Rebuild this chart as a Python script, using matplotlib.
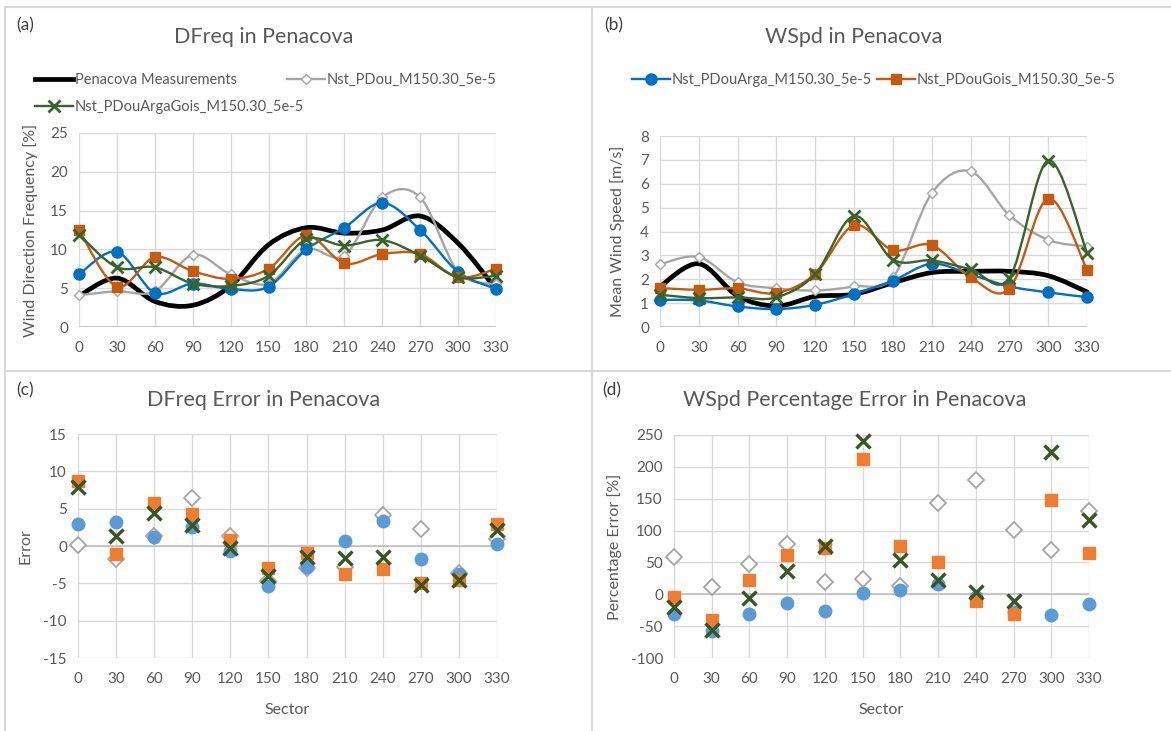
import matplotlib
matplotlib.use("Agg")
import matplotlib.pyplot as plt
from matplotlib.path import Path
from matplotlib.patches import PathPatch
from matplotlib.lines import Line2D

plt.rcParams["font.family"] = ["Lato", "DejaVu Sans"]
plt.rcParams["axes.unicode_minus"] = False

W, H = 1171, 731
TEXT = "#595959"
GRID = "#D9D9D9"

SECTORS = [0, 30, 60, 90, 120, 150, 180, 210, 240, 270, 300, 330]

# (a) direction frequency [%]
DFREQ_MEAS = [4.0, 6.3, 3.3, 2.8, 5.3, 10.6, 12.8, 12.1, 12.5, 14.3, 10.8, 4.9]
DFREQ_PDOU = [4.1, 4.6, 4.6, 9.3, 6.8, 5.6, 10.0, 9.2, 16.7, 16.7, 7.1, 5.5]
DFREQ_ARGA = [6.8, 9.7, 4.4, 5.6, 4.9, 5.2, 10.0, 12.8, 16.0, 12.5, 7.1, 4.9]
DFREQ_GOIS = [12.5, 5.2, 9.0, 7.2, 6.2, 7.5, 11.8, 8.2, 9.4, 9.4, 6.4, 7.5]
DFREQ_ARGAGOIS = [11.9, 7.7, 7.7, 5.6, 5.3, 6.6, 11.3, 10.5, 11.2, 9.2, 6.4, 6.6]

# (b) mean wind speed [m/s]
WSPD_MEAS = [1.7, 2.65, 1.3, 0.88, 1.28, 1.37, 1.85, 2.28, 2.33, 2.33, 2.15, 1.47]
WSPD_PDOU = [2.63, 2.93, 1.87, 1.62, 1.53, 1.70, 2.08, 5.6, 6.52, 4.68, 3.65, 3.37]
WSPD_ARGA = [1.14, 1.11, 0.86, 0.75, 0.93, 1.38, 1.94, 2.65, 2.2, 1.7, 1.45, 1.25]
WSPD_GOIS = [1.63, 1.56, 1.62, 1.42, 2.23, 4.26, 3.22, 3.43, 2.09, 1.6, 5.38, 2.4]
WSPD_ARGAGOIS = [1.35, 1.21, 1.24, 1.24, 2.22, 4.65, 2.82, 2.79, 2.42, 2.05, 6.97, 3.12]

# (c) direction frequency error
DFREQ_ERR_PDOU = [0.1, -1.7, 1.4, 6.4, 1.4, -4.7, -2.9, -2.8, 4.2, 2.3, -3.6, 0.9]
DFREQ_ERR_ARGA = [2.95, 3.2, 1.2, 2.6, -0.7, -5.3, -2.8, 0.7, 3.4, -1.8, -3.75, 0.3]
DFREQ_ERR_GOIS = [8.75, -1.1, 5.7, 4.3, 0.8, -2.95, -1.0, -3.75, -3.1, -4.9, -4.5, 2.9]
DFREQ_ERR_ARGAGOIS = [7.85, 1.35, 4.4, 2.85, -0.25, -4.0, -1.5, -1.55, -1.5, -5.2, -4.5, 2.1]

# (d) wind speed percentage error [%]
WSPD_ERR_PDOU = [58, 11, 47, 79, 18.5, 24, 13, 143, 179, 100.6, 69, 131]
WSPD_ERR_ARGA = [-31, -58, -31, -13, -26, 2.4, 6.6, 16, -5, -28, -32, -15]
WSPD_ERR_GOIS = [-4.4, -40, 22, 61, 72, 213, 76, 50, -11, -31, 148, 65]
WSPD_ERR_ARGAGOIS = [-20.6, -56, -6, 37, 75, 240, 53.6, 22, 3.5, -11, 223, 116]

NAME_MEAS = "Penacova Measurements"
NAME_PDOU = "Nst_PDou_M150.30_5e-5"
NAME_ARGA = "Nst_PDouArga_M150.30_5e-5"
NAME_GOIS = "Nst_PDouGois_M150.30_5e-5"
NAME_ARGAGOIS = "Nst_PDouArgaGois_M150.30_5e-5"

# line style per series (line charts)
LINE_STYLE = {
    "meas": dict(color="#000000", lw=3.4, marker=None),
    "pdou": dict(color="#A5A5A5", lw=1.7, marker="D", ms=5.5, mfc="white", mec="#A5A5A5", mew=1.0),
    "arga": dict(color="#0070C0", lw=1.7, marker="o", ms=8, mfc="#0070C0", mec="#0070C0", mew=1.0),
    "gois": dict(color="#C55A11", lw=1.7, marker="s", ms=7.5, mfc="#C55A11", mec="#C55A11", mew=1.0),
    "argagois": dict(color="#38632A", lw=1.7, marker="x", ms=8.5, mfc="#38632A", mec="#38632A", mew=2.0),
}

# marker style per series (scatter charts)
DOT_STYLE = {
    "pdou": dict(marker="D", ms=8, mfc="white", mec="#A5A5A5", mew=1.3),
    "arga": dict(marker="o", ms=9, mfc="#5B9BD5", mec="#5B9BD5", mew=1.0),
    "gois": dict(marker="s", ms=8.5, mfc="#ED7D31", mec="#ED7D31", mew=1.0),
    "argagois": dict(marker="x", ms=9.5, mfc="#375623", mec="#375623", mew=2.4),
}


def px_axes(fig, left, top, right, bottom):
    return fig.add_axes([left / W, 1 - bottom / H, (right - left) / W, (bottom - top) / H])


def smooth_path(x, y):
    # Excel-like smoothed line: cubic bezier through every point
    n = len(x)
    verts = [(x[0], y[0])]
    codes = [Path.MOVETO]
    for i in range(n - 1):
        a = i - 1 if i > 0 else i
        d = i + 2 if i + 2 < n else i + 1
        c1 = (x[i] + (x[i + 1] - x[a]) / 6, y[i] + (y[i + 1] - y[a]) / 6)
        c2 = (x[i + 1] - (x[d] - x[i]) / 6, y[i + 1] - (y[d] - y[i]) / 6)
        verts += [c1, c2, (x[i + 1], y[i + 1])]
        codes += [Path.CURVE4] * 3
    return Path(verts, codes)


def style_axes(ax, ylim, ystep, zero_line=False):
    ax.set_xlim(0, 330)
    ax.set_ylim(*ylim)
    ax.set_xticks(SECTORS)
    ax.set_yticks(range(ylim[0], ylim[1] + 1, ystep))
    ax.grid(True, color=GRID, lw=1.0)
    ax.set_axisbelow(True)
    for s in ax.spines.values():
        s.set_visible(False)
    ax.tick_params(length=0, labelsize=11, colors=TEXT, pad=8)
    ax.tick_params(axis="x", pad=10)
    ax.axhline(0 if zero_line else ylim[0], color="#BFBFBF", lw=1.2, zorder=1.5)


def draw_lines(ax, series):
    for i, (key, vals) in enumerate(series):
        st = LINE_STYLE[key]
        patch = PathPatch(smooth_path(SECTORS, vals), fill=False, edgecolor=st["color"],
                          lw=st["lw"], capstyle="round", joinstyle="round", zorder=3 + i)
        patch.set_clip_on(False)
        ax.add_patch(patch)
        if st["marker"]:
            ax.plot(SECTORS, vals, ls="none", marker=st["marker"], ms=st["ms"],
                    mfc=st["mfc"], mec=st["mec"], mew=st["mew"], zorder=3.5 + i, clip_on=False)


def draw_dots(ax, series):
    for i, (key, vals) in enumerate(series):
        st = DOT_STYLE[key]
        ax.plot(SECTORS, vals, ls="none", zorder=3 + i, clip_on=False, **st)


def legend_handle(key):
    st = LINE_STYLE[key]
    if st["marker"]:
        return Line2D([], [], color=st["color"], lw=st["lw"], marker=st["marker"], ms=st["ms"],
                      mfc=st["mfc"], mec=st["mec"], mew=st["mew"])
    return Line2D([], [], color=st["color"], lw=st["lw"])


def add_legend(fig, key, name, x, y):
    leg = fig.legend([legend_handle(key)], [name], loc="center left",
                     bbox_to_anchor=(x / W, 1 - y / H), frameon=False, fontsize=10.5,
                     handlelength=2.6, handletextpad=0.15, borderpad=0, borderaxespad=0)
    for t in leg.get_texts():
        t.set_color(TEXT)


def main():
    fig = plt.figure(figsize=(W / 100, H / 100), dpi=100)

    # panel frame lines
    frame = dict(color="#D9D9D9", lw=1.5, transform=fig.transFigure)
    fig.add_artist(Line2D([5 / W, 1], [1 - 7 / H, 1 - 7 / H], **frame))
    fig.add_artist(Line2D([5 / W, 5 / W], [0, 1 - 7 / H], **frame))
    fig.add_artist(Line2D([592 / W, 592 / W], [0, 1 - 7 / H], **frame))
    fig.add_artist(Line2D([5 / W, 1], [1 - 371 / H, 1 - 371 / H], **frame))

    title_kw = dict(fontsize=15.5, color=TEXT, ha="center", va="center")
    tag_kw = dict(fontsize=12.5, color="#404040", ha="center", va="center")
    ylab_kw = dict(fontsize=11.5, color=TEXT)

    # (a)
    ax = px_axes(fig, 79, 133, 496, 327)
    style_axes(ax, (0, 25), 5)
    draw_lines(ax, [("meas", DFREQ_MEAS), ("pdou", DFREQ_PDOU), ("arga", DFREQ_ARGA),
                    ("gois", DFREQ_GOIS), ("argagois", DFREQ_ARGAGOIS)])
    ax.set_ylabel("Wind Direction Frequency [%]", **ylab_kw)
    ax.yaxis.set_label_coords((38 - 79) / (496 - 79), 0.5)
    fig.text(264 / W, 1 - 37 / H, "DFreq in Penacova", **title_kw)
    fig.text(25 / W, 1 - 25 / H, "(a)", **tag_kw)
    add_legend(fig, "meas", NAME_MEAS, 35, 80)
    add_legend(fig, "pdou", NAME_PDOU, 287, 80)
    add_legend(fig, "argagois", NAME_ARGAGOIS, 35, 107)

    # (b)
    ax = px_axes(fig, 660, 136, 1087, 327)
    style_axes(ax, (0, 8), 1)
    draw_lines(ax, [("meas", WSPD_MEAS), ("pdou", WSPD_PDOU), ("arga", WSPD_ARGA),
                    ("gois", WSPD_GOIS), ("argagois", WSPD_ARGAGOIS)])
    ax.set_ylabel("Mean Wind Speed [m/s]", **ylab_kw)
    ax.yaxis.set_label_coords((625 - 660) / (1087 - 660), 0.5)
    fig.text(854 / W, 1 - 37 / H, "WSpd in Penacova", **title_kw)
    fig.text(614 / W, 1 - 25 / H, "(b)", **tag_kw)
    add_legend(fig, "arga", NAME_ARGA, 632, 80)
    add_legend(fig, "gois", NAME_GOIS, 877, 80)

    # (c)
    ax = px_axes(fig, 78, 434, 497, 658)
    style_axes(ax, (-15, 15), 5, zero_line=True)
    draw_dots(ax, [("pdou", DFREQ_ERR_PDOU), ("arga", DFREQ_ERR_ARGA),
                   ("gois", DFREQ_ERR_GOIS), ("argagois", DFREQ_ERR_ARGAGOIS)])
    ax.set_ylabel("Error", **ylab_kw)
    ax.yaxis.set_label_coords((33 - 78) / (497 - 78), 0.5)
    ax.set_xlabel("Sector", fontsize=11.5, color=TEXT)
    ax.xaxis.set_label_coords(0.5, -(703 - 658) / (658 - 434))
    fig.text(264 / W, 1 - 400 / H, "DFreq Error in Penacova", **title_kw)
    fig.text(25 / W, 1 - 390 / H, "(c)", **tag_kw)

    # (d)
    ax = px_axes(fig, 674, 435, 1089, 658)
    style_axes(ax, (-100, 250), 50, zero_line=True)
    draw_dots(ax, [("pdou", WSPD_ERR_PDOU), ("arga", WSPD_ERR_ARGA),
                   ("gois", WSPD_ERR_GOIS), ("argagois", WSPD_ERR_ARGAGOIS)])
    ax.set_ylabel("Percentage Error [%]", **ylab_kw)
    ax.yaxis.set_label_coords((622 - 674) / (1089 - 674), 0.5)
    ax.set_xlabel("Sector", fontsize=11.5, color=TEXT)
    ax.xaxis.set_label_coords(0.5, -(703 - 658) / (658 - 435))
    fig.text(855 / W, 1 - 400 / H, "WSpd Percentage Error in Penacova", **title_kw)
    fig.text(612 / W, 1 - 390 / H, "(d)", **tag_kw)

    fig.savefig("out.png", dpi=100)
    plt.close(fig)


if __name__ == "__main__":
    main()
